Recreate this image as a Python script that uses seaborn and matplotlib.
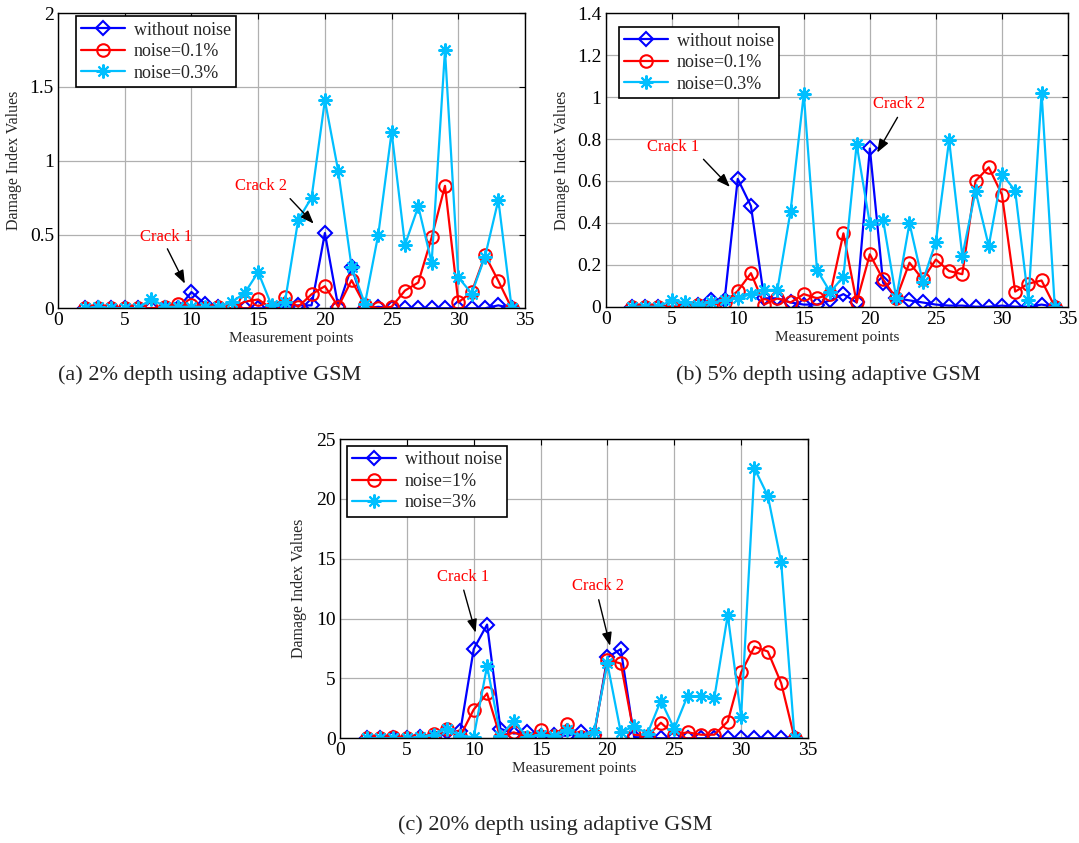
import matplotlib
matplotlib.use("Agg")
import matplotlib.pyplot as plt
import seaborn as sns
from matplotlib.lines import Line2D

sns.set_style("white")
plt.rcParams['font.family'] = ['Liberation Serif', 'DejaVu Serif']
plt.rcParams['mathtext.fontset'] = 'stix'

points = [2, 3, 4, 5, 6, 7, 8, 9, 10, 11, 12, 13, 14, 15, 16, 17, 18,
          19, 20, 21, 22, 23, 24, 25, 26, 27, 28, 29, 30, 31, 32, 33, 34]

# (a) 2% depth
a_clean = [0, 0, 0, 0, 0, 0, 0, 0, 0.11, 0.03, 0.01, 0, 0, 0, 0, 0.01, 0.02,
           0.02, 0.51, 0.01, 0.28, 0.0, 0.01, 0, 0, 0, 0, 0, 0, 0, 0, 0.02, 0]
a_n01 = [0, 0, 0, 0, 0, 0, 0.01, 0.03, 0.02, 0.0, 0.01, 0.0, 0.045, 0.06, 0.0, 0.075, 0.01,
         0.095, 0.15, 0.01, 0.19, 0.02, 0.0, 0.01, 0.12, 0.175, 0.48, 0.83, 0.04, 0.11, 0.36, 0.185, 0]
a_n03 = [0, 0.01, 0, 0, 0, 0.065, 0.01, 0.01, 0.01, 0.01, 0.01, 0.04, 0.105, 0.245, 0.02, 0.04, 0.6,
         0.75, 1.41, 0.93, 0.28, 0.03, 0.5, 1.195, 0.43, 0.69, 0.31, 1.75, 0.21, 0.1, 0.35, 0.735, 0]

# (b) 5% depth
b_clean = [0, 0, 0, 0, 0, 0.01, 0.03, 0.03, 0.61, 0.48, 0.04, 0.04, 0.02, 0.01, 0.01, 0.03, 0.06,
           0.02, 0.755, 0.115, 0.04, 0.03, 0.02, 0.01, 0.005, 0.005, 0, 0, 0.005, 0, 0, 0.01, 0]
b_n01 = [0, 0, 0, 0, 0, 0.01, 0.01, 0.02, 0.075, 0.16, 0.01, 0.04, 0.02, 0.06, 0.04, 0.06, 0.35,
         0.02, 0.25, 0.13, 0.04, 0.21, 0.13, 0.225, 0.17, 0.155, 0.6, 0.665, 0.535, 0.072, 0.11, 0.125, 0]
b_n03 = [0, 0, 0, 0.03, 0.02, 0.01, 0.02, 0.03, 0.04, 0.06, 0.08, 0.08, 0.457, 1.015, 0.175, 0.07, 0.143,
         0.775, 0.395, 0.415, 0.04, 0.398, 0.12, 0.31, 0.795, 0.242, 0.552, 0.29, 0.633, 0.554, 0.03, 1.02, 0]

# (c) 20% depth
c_clean = [0, 0, 0, 0, 0.1, 0.1, 0.5, 0.6, 7.45, 9.5, 0.8, 0.4, 0.5, 0.2, 0.3, 0.2, 0.5,
           0.3, 6.75, 7.45, 0.1, 0.05, 0, 0, 0, 0, 0, 0, 0, 0, 0, 0, 0]
c_n1 = [0, 0.05, 0.1, 0.05, 0.05, 0.4, 0.8, 0.2, 2.4, 3.75, 0.05, 0.5, 0.05, 0.7, 0.2, 1.2, 0.1,
        0.3, 6.55, 6.25, 0.3, 0.2, 1.3, 0.3, 0.5, 0.3, 0.3, 1.4, 5.5, 7.65, 7.25, 4.6, 0]
c_n3 = [0, 0, 0, 0, 0.1, 0.3, 0.8, 0.2, 0.1, 6.05, 0.2, 1.45, 0.1, 0.3, 0.2, 0.7, 0.1,
        0.5, 6.25, 0.5, 1.0, 0.4, 3.15, 0.8, 3.55, 3.5, 3.4, 10.3, 1.8, 22.55, 20.25, 14.7, 0]

labels_ab = ["without noise", "noise=0.1%", "noise=0.3%"]
labels_c = ["without noise", "noise=1%", "noise=3%"]
colors = ["#0000ff", "#ff0000", "#00bfff"]
markers = ["D", "o", (8, 2, 0)]
msizes = [7, 9, 10]

fig = plt.figure(figsize=(10.79, 8.43), dpi=100)
ax_a = fig.add_axes([0.0538, 0.6343, 0.4328, 0.350])
ax_b = fig.add_axes([0.5613, 0.6362, 0.4285, 0.348])
ax_c = fig.add_axes([0.3151, 0.1242, 0.4337, 0.355])

panels = [
    (ax_a, [a_clean, a_n01, a_n03], labels_ab, (0, 2), [0, 0.5, 1, 1.5, 2], ["0", "0.5", "1", "1.5", "2"],
     (0.038, 0.99)),
    (ax_b, [b_clean, b_n01, b_n03], labels_ab, (0, 1.4), [0, 0.2, 0.4, 0.6, 0.8, 1.0, 1.2, 1.4],
     ["0", "0.2", "0.4", "0.6", "0.8", "1", "1.2", "1.4"], (0.029, 0.953)),
    (ax_c, [c_clean, c_n1, c_n3], labels_c, (0, 25), [0, 5, 10, 15, 20, 25],
     ["0", "5", "10", "15", "20", "25"], (0.015, 0.977)),
]

for ax, series, labs, ylim, yt, ytl, lpos in panels:
    for vals, lab, col, mk, ms in zip(series, labs, colors, markers, msizes):
        sns.lineplot(x=points, y=vals, ax=ax, color=col, lw=1.6, marker=mk, ms=ms,
                     mfc='none', mec=col, mew=1.5, label=lab, legend=False)
    ax.set_xlim(0, 35)
    ax.set_ylim(*ylim)
    ax.set_xticks([0, 5, 10, 15, 20, 25, 30, 35])
    ax.set_xticklabels(["0", "5", "10", "15", "20", "25", "30", "35"])
    ax.set_yticks(yt)
    ax.set_yticklabels(ytl)
    ax.grid(True, color='#b0b0b0', lw=0.9)
    ax.set_axisbelow(True)
    for s in ax.spines.values():
        s.set_color('black')
        s.set_linewidth(1.0)
    ax.tick_params(direction='in', top=True, right=True, labelsize=14, length=4,
                   width=0.8, pad=3, colors='black')
    ax.set_xlabel("Measurement points", fontsize=11, labelpad=2)
    ax.set_ylabel("Damage Index Values", fontsize=11.5)
    handles = [Line2D([0], [0], color=c, lw=1.6, marker=m, ms=s, mfc='none', mec=c, mew=1.5)
               for c, m, s in zip(colors, markers, msizes)]
    leg = ax.legend(handles, labs, loc='upper left', bbox_to_anchor=lpos, fontsize=13,
                    frameon=True, fancybox=False, framealpha=1, edgecolor='black',
                    handlelength=2.4, borderpad=0.3, labelspacing=0.25, handletextpad=0.5,
                    borderaxespad=0)
    leg.get_frame().set_linewidth(1.2)

ax_a.yaxis.set_label_coords(-0.077, 0.5)
ax_b.yaxis.set_label_coords(-0.077, 0.5)
ax_c.yaxis.set_label_coords(-0.07, 0.5)

def crack(ax, text, tpos, start, end):
    ax.text(tpos[0], tpos[1], text, color='red', fontsize=12, ha='center', va='center')
    ax.annotate('', xy=end, xytext=start,
                arrowprops=dict(arrowstyle='-|>,head_length=0.8,head_width=0.3', color='black', lw=1.0))

crack(ax_a, "Crack 1", (8.1, 0.48), (8.1, 0.42), (9.6, 0.15))
crack(ax_a, "Crack 2", (15.2, 0.83), (17.25, 0.757), (19.3, 0.56))
crack(ax_b, "Crack 1", (5.1, 0.76), (7.26, 0.713), (9.55, 0.562))
crack(ax_b, "Crack 2", (22.2, 0.966), (22.2, 0.915), (20.45, 0.724))
crack(ax_c, "Crack 1", (9.2, 13.5), (9.2, 12.6), (10.2, 8.6))
crack(ax_c, "Crack 2", (19.3, 12.75), (19.3, 11.8), (20.25, 7.5))

fig.text(210 / 1079, 1 - 375 / 843, "(a) 2% depth using adaptive GSM", fontsize=16, ha='center', va='center')
fig.text(828 / 1079, 1 - 375 / 843, "(b) 5% depth using adaptive GSM", fontsize=16, ha='center', va='center')
fig.text(555 / 1079, 1 - 825 / 843, "(c) 20% depth using adaptive GSM", fontsize=16, ha='center', va='center')

fig.savefig("out.png", dpi=100, facecolor='white')
